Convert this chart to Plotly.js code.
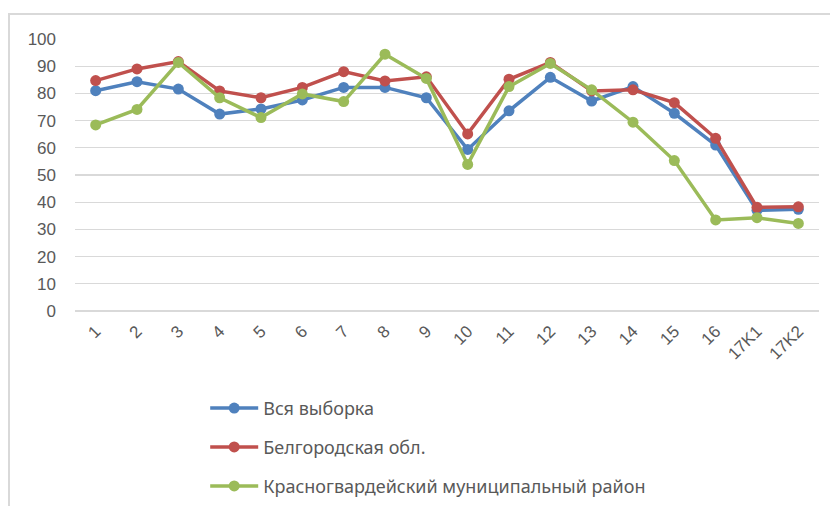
<!DOCTYPE html>
<html><head><meta charset="utf-8">
<script src="https://cdn.plot.ly/plotly-3.0.1.min.js"></script>
<style>
html,body{margin:0;padding:0;background:#fff;}
#wrap{position:relative;width:830px;height:506px;overflow:hidden;}
#frame{position:absolute;left:8px;top:13px;width:900px;height:600px;border-left:2px solid #d9d9d9;border-top:2px solid #d9d9d9;}
#chart{position:absolute;left:0;top:0;width:830px;height:506px;}
</style></head>
<body><div id="wrap"><div id="frame"></div><div id="chart"></div></div>
<script>
const categories = ["1","2","3","4","5","6","7","8","9","10","11","12","13","14","15","16","17K1","17K2"];
const vsyaVyborka = [81, 84.3, 81.6, 72.4, 74.3, 77.6, 82.2, 82.2, 78.4, 59.4, 73.6, 85.9, 77.2, 82.5, 72.7, 61, 37, 37.4];
const belgorodskaya = [84.7, 89, 91.7, 80.9, 78.4, 82.2, 88, 84.6, 86.1, 65.1, 85.2, 91.4, 80.9, 81.3, 76.6, 63.5, 38.1, 38.3];
const krasnogvardeysky = [68.4, 74.1, 91.4, 78.4, 71.1, 79.8, 77, 94.4, 85.5, 53.9, 82.5, 91, 81.3, 69.4, 55.3, 33.5, 34.3, 32.2];
const seriesNames = ["Вся выборка", "Белгородская обл.", "Красногвардейский муниципальный район"];
const colors = ["#4f81bd", "#c0504d", "#9bbb59"];
const allValues = [vsyaVyborka, belgorodskaya, krasnogvardeysky];

const traces = allValues.map((vals, i) => ({
  type: 'scatter', mode: 'lines+markers',
  x: categories, y: vals, name: seriesNames[i],
  legendgroup: 'g' + i,
  line: {color: colors[i], width: 3.5},
  marker: {color: colors[i], size: 11}
}));

const layout = {
  width: 830, height: 506,
  paper_bgcolor: 'rgba(0,0,0,0)', plot_bgcolor: 'rgba(0,0,0,0)',
  margin: {l: 75, r: 11, t: 39, b: 195, autoexpand: false},
  font: {family: 'Liberation Sans, Arial, sans-serif', color: '#595959', size: 17},
  showlegend: true,
  legend: {
    orientation: 'v', x: 0.175, xanchor: 'left', y: -0.29, yanchor: 'top',
    tracegroupgap: 12.5, itemwidth: 48,
    font: {size: 18, color: '#595959', family: 'Noto Sans, Open Sans, sans-serif'},
    bgcolor: 'rgba(0,0,0,0)'
  },
  xaxis: {
    type: 'category', tickangle: -45, showgrid: false, zeroline: false, automargin: false,
    showline: false, ticks: '', ticklabelstandoff: 6, tickfont: {size: 17, color: '#595959'},
    range: [-0.5, categories.length - 0.5]
  },
  yaxis: {
    range: [0, 100], dtick: 10, showgrid: true, gridcolor: '#d9d9d9', gridwidth: 1.3, automargin: false,
    zeroline: true, zerolinecolor: '#d9d9d9', zerolinewidth: 1.3, showline: false, ticks: '',
    ticklabelstandoff: 18, tickfont: {size: 17, color: '#595959'}
  }
};
Plotly.newPlot('chart', traces, layout, {displayModeBar: false, staticPlot: true});
</script></body></html>
